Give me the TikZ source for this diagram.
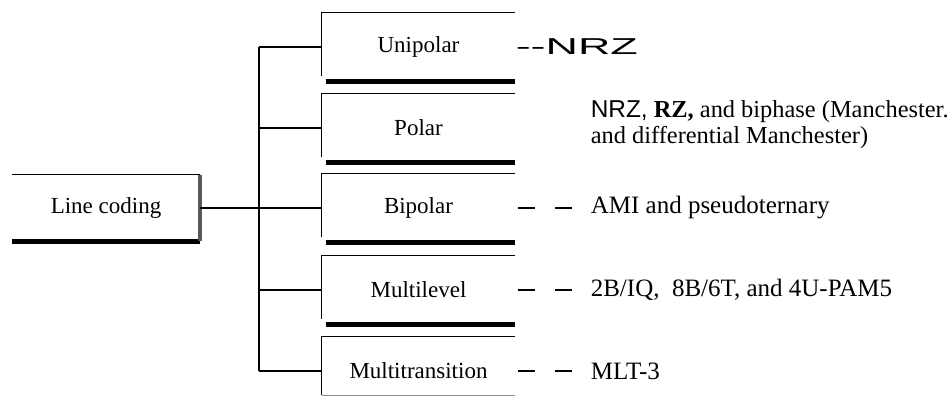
\documentclass[tikz,border=0pt]{standalone}
\usepackage{fontspec}
\usepackage{graphicx}
\setmainfont{Liberation Serif}
\newfontfamily\nrzfont{Liberation Sans}
\usetikzlibrary{positioning,calc}

\begin{document}
\begin{tikzpicture}[x=0.5pt, y=-0.5pt, line cap=butt, line join=miter]

% --- Stijlen ---
\tikzset{
    rootbox/.style={
        minimum width=93.5pt,
        minimum height=33pt,
        inner sep=0pt,
        font=\fontsize{11.5}{13}\selectfont
    },
    catbox/.style={
        minimum width=96.5pt,
        minimum height=34pt,
        inner sep=0pt,
        font=\fontsize{11.5}{13}\selectfont
    },
    note/.style={
        inner sep=0pt,
        font=\fontsize{12.5}{13}\selectfont
    },
    thinedge/.style={
        draw=black,
        line width=0.8pt
    },
    thickedge/.style={
        draw=black,
        line width=2.6pt
    },
    tree/.style={
        draw=black,
        line width=1pt
    },
    leader/.style={
        draw=black,
        line width=0.8pt,
        dash pattern=on 8.5pt off 10pt
    }
}

\useasboundingbox (0,0) rectangle (949,404);

% --- Wortel ---
\node[rootbox] (root) at (106,208) {Line coding};
\coordinate (trunk) at (259,208);

% --- Categorieen ---
\node[catbox] (uni) at (418.5,47)  {Unipolar};
\node[catbox] (pol) at (418.5,128) {Polar};
\node[catbox] (bip) at (418.5,208) {Bipolar};
\node[catbox] (mul) at (418.5,290) {Multilevel};
\node[catbox] (mlt) at (418.5,371) {Multitransition};

% --- Randen van de wortel ---
\draw[thinedge] (root.north west) -- (root.north east);
\draw[thickedge] (root.south west) -- (root.south east);
\draw[draw=black!65, line width=1.6pt] (root.north east) -- (root.south east);

% --- Randen van de categorieen ---
\draw[thinedge] (uni.north east) -- (uni.north west) -- ([yshift=2.5pt]uni.south west);
\draw[thickedge] ([xshift=2pt]uni.south west) -- (uni.south east);

\draw[thinedge] (pol.north east) -- (pol.north west) -- ([yshift=2.5pt]pol.south west);
\draw[thickedge] ([xshift=2pt]pol.south west) -- (pol.south east);

\draw[thinedge] (bip.north east) -- (bip.north west) -- ([yshift=2.5pt]bip.south west);
\draw[thickedge] ([xshift=2pt]bip.south west) -- (bip.south east);

\draw[thinedge] (mul.north east) -- (mul.north west) -- ([yshift=2.5pt]mul.south west);
\draw[thickedge] ([xshift=2pt]mul.south west) -- (mul.south east);

\draw[thinedge] (mlt.north east) -- (mlt.north west) -- ([yshift=5pt]mlt.south west);
\draw[thinedge, draw=black!45] ([yshift=5pt]mlt.south west) -- ([yshift=5pt]mlt.south east);

% --- Boom ---
\draw[tree] (root.east) -- (trunk);
\draw[tree] (trunk |- uni.west) -- (trunk |- mlt.west);
\draw[tree] (trunk |- uni.west) -- (uni.west);
\draw[tree] (trunk |- pol.west) -- (pol.west);
\draw[tree] (trunk |- bip.west) -- (bip.west);
\draw[tree] (trunk |- mul.west) -- (mul.west);
\draw[tree] (trunk |- mlt.west) -- (mlt.west);

% --- Voorbeelden ---
\node[note, right=0pt of uni, font=\nrzfont\fontsize{11.5}{13}\selectfont] (uninote)
    {\scalebox{1.95}[1]{--NRZ}};

\node[note, right=37.5pt of pol, align=left, yshift=1.5pt,
      font=\fontsize{12.2}{13}\selectfont] (polnote)
    {{\nrzfont NRZ,} \textbf{RZ,} and biphase (Manchester.\\
     and differential Manchester)};

\node[note, right=37.5pt of bip] (bipnote) {AMI and pseudoternary};
\node[note, right=37.5pt of mul] (mulnote) {2B/IQ,\ \ 8B/6T, and 4U-PAM5};
\node[note, right=37.5pt of mlt] (mltnote) {MLT-3};

\draw[leader] ([xshift=1.5pt]bip.east) -- (bipnote.west);
\draw[leader] ([xshift=1.5pt]mul.east) -- (mulnote.west);
\draw[leader] ([xshift=1.5pt]mlt.east) -- (mltnote.west);

\end{tikzpicture}
\end{document}
